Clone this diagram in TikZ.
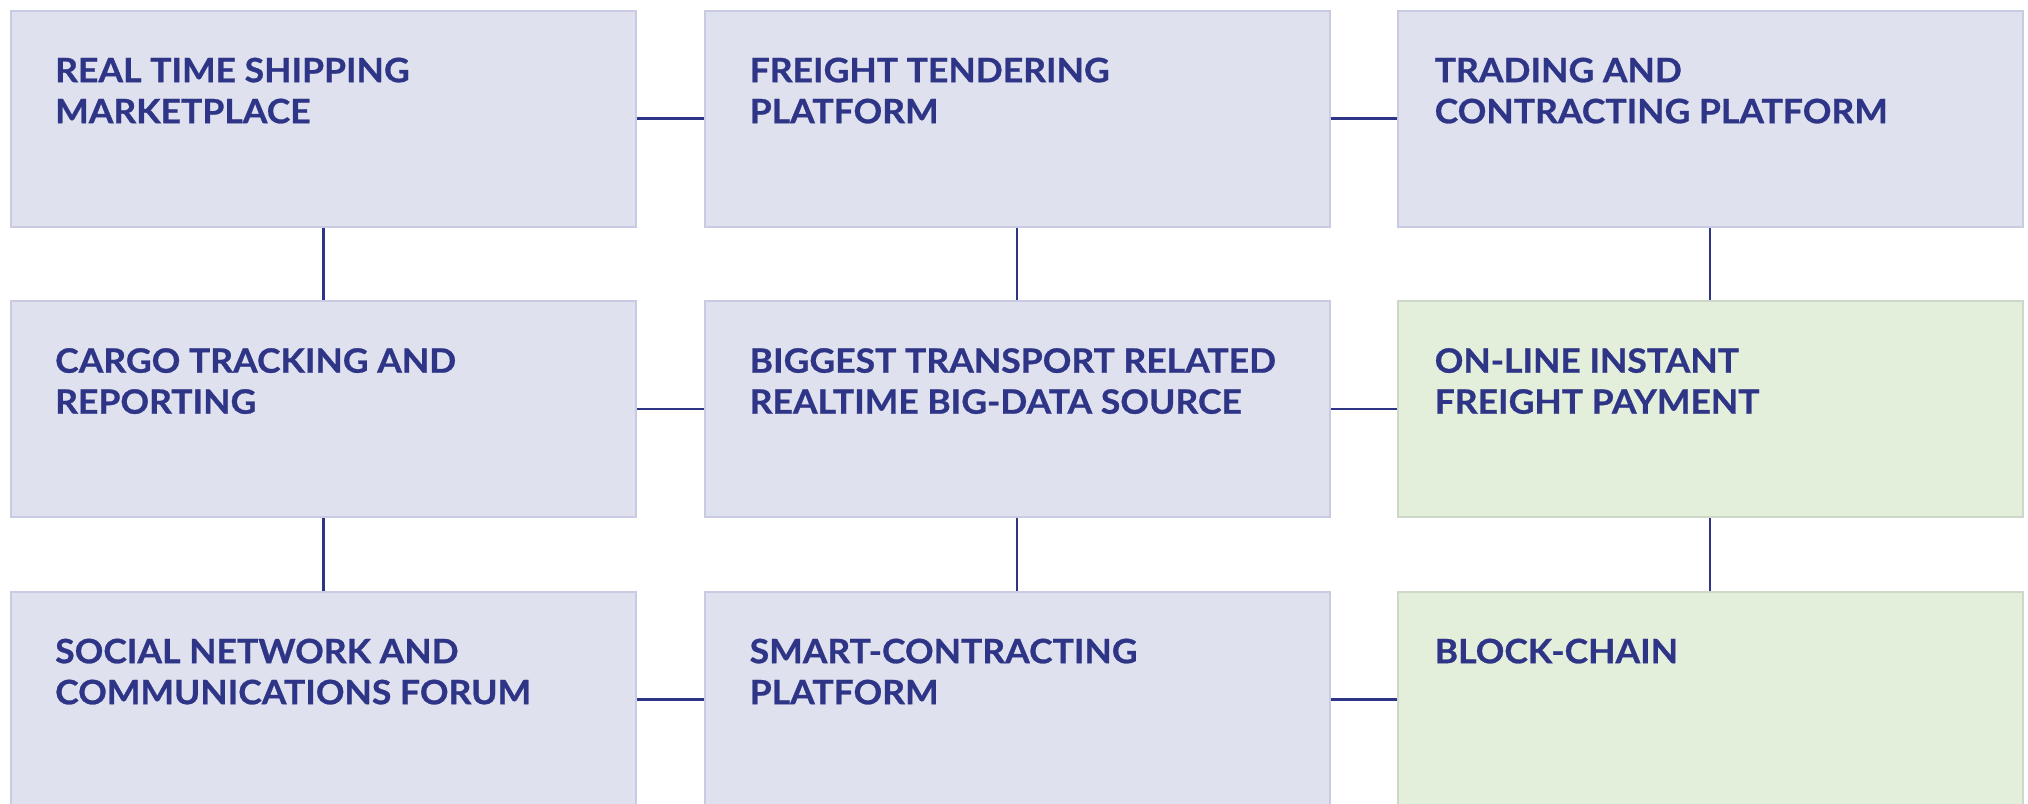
\documentclass[tikz,border=0pt]{standalone}
\usepackage{fontspec}
\setmainfont{Lato}[BoldFont={* Bold},BoldFeatures={FakeStretch=1.06,FakeBold=0.8}]
\definecolor{ink}{HTML}{2E3586}
\definecolor{bluefill}{HTML}{E0E1EE}
\definecolor{blueedge}{HTML}{C9CBE2}
\definecolor{greenfill}{HTML}{E3EFDB}
\definecolor{greenedge}{HTML}{CDD8CB}
\tikzset{
  box/.style={rectangle, minimum width=625pt, minimum height=216pt, inner sep=0pt, line width=2pt},
  bluebox/.style={box, fill=bluefill, draw=blueedge},
  greenbox/.style={box, fill=greenfill, draw=greenedge},
  txt/.style={anchor=north west, inner sep=0pt, align=left, text=ink,
    font=\fontsize{33.5}{41}\selectfont\bfseries},
  link/.style={draw=ink, line width=2.4pt}
}
\begin{document}
\begin{tikzpicture}[x=1pt,y=-1pt]
\useasboundingbox (0,0) rectangle (2028,803);
\node[bluebox] (b11) at (323.5,118.5) {};
\node[bluebox] (b12) at (1017,118.5) {};
\node[bluebox] (b13) at (1710,118.5) {};
\node[bluebox] (b21) at (323.5,409) {};
\node[bluebox] (b22) at (1017,409) {};
\node[greenbox] (b23) at (1710,409) {};
\node[bluebox] (b31) at (323.5,699.5) {};
\node[bluebox] (b32) at (1017,699.5) {};
\node[greenbox] (b33) at (1710,699.5) {};
\node[txt] (t11) at ([shift={(45,48)}]b11.north west) {REAL TIME SHIPPING\\MARKETPLACE};
\node[txt] (t12) at ([shift={(46,48)}]b12.north west) {FREIGHT TENDERING\\PLATFORM};
\node[txt] (t13) at ([shift={(38,48)}]b13.north west) {TRADING AND\\CONTRACTING PLATFORM};
\node[txt] (t21) at ([shift={(45,48)}]b21.north west) {CARGO TRACKING AND\\REPORTING};
\node[txt] (t22) at ([shift={(46,48)}]b22.north west) {BIGGEST TRANSPORT RELATED\\REALTIME BIG-DATA SOURCE};
\node[txt] (t23) at ([shift={(38,48)}]b23.north west) {ON-LINE INSTANT\\FREIGHT PAYMENT};
\node[txt] (t31) at ([shift={(45,48)}]b31.north west) {SOCIAL NETWORK AND\\COMMUNICATIONS FORUM};
\node[txt] (t32) at ([shift={(46,48)}]b32.north west) {SMART-CONTRACTING\\PLATFORM};
\node[txt] (t33) at ([shift={(38,48)}]b33.north west) {BLOCK-CHAIN};
\draw[link] (b11.east) -- (b12.west);
\draw[link] (b12.east) -- (b13.west);
\draw[link] (b21.east) -- (b22.west);
\draw[link] (b22.east) -- (b23.west);
\draw[link] (b31.east) -- (b32.west);
\draw[link] (b32.east) -- (b33.west);
\draw[link] (b11.south) -- (b21.north);
\draw[link] (b21.south) -- (b31.north);
\draw[link] (b12.south) -- (b22.north);
\draw[link] (b22.south) -- (b32.north);
\draw[link] (b13.south) -- (b23.north);
\draw[link] (b23.south) -- (b33.north);
\end{tikzpicture}
\end{document}
